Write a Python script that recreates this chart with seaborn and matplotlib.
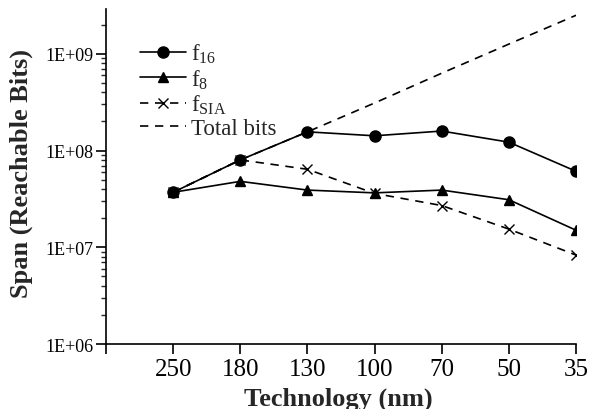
import numpy as np
import pandas as pd
import seaborn as sns
import matplotlib
matplotlib.use("Agg")
import matplotlib.pyplot as plt
from matplotlib.ticker import LogLocator, FixedLocator, NullFormatter

# data
technology = ["250", "180", "130", "100", "70", "50", "35"]
f16 = [3.7e7, 8.0e7, 1.56e8, 1.42e8, 1.59e8, 1.22e8, 6.1e7]
f8 = [3.7e7, 4.8e7, 3.9e7, 3.65e7, 3.9e7, 3.1e7, 1.5e7]
f_sia = [3.7e7, 8.0e7, 6.4e7, 3.6e7, 2.7e7, 1.54e7, 8.3e6]
total_bits = [3.7e7, 8.0e7, 1.56e8, 3.1e8, 6.3e8, 1.26e9, 2.5e9]
y_ticks = [1e6, 1e7, 1e8, 1e9]
y_tick_labels = ["1E+06", "1E+07", "1E+08", "1E+09"]

sns.set_style("ticks")
plt.rcParams["font.family"] = ["Liberation Serif", "DejaVu Serif"]
plt.rcParams["mathtext.fontset"] = "custom"
plt.rcParams["mathtext.rm"] = "Liberation Serif"
plt.rcParams["mathtext.it"] = "Liberation Serif"

fig = plt.figure(figsize=(5.89, 4.10), dpi=100)
ax = fig.add_axes([0.180, 0.1585, 0.798, 0.817])

xpos = np.arange(len(technology))
series = [
    (f16, r"f$_{16}$", "o", 8, None),
    (f8, r"f$_{8}$", "^", 7, None),
    (f_sia, r"f$_{\mathrm{SIA}}$", "x", 7, (5, 4)),
    (total_bits, "Total bits", None, 0, (5, 4)),
]
for vals, label, marker, ms, dash in series:
    line_kw = dict(color="black", lw=1.2, label=label)
    if marker:
        line_kw.update(marker=marker, markersize=ms, markeredgecolor="black",
                       markerfacecolor="black", markeredgewidth=1.0)
    sns.lineplot(x=xpos, y=vals, ax=ax, **line_kw)
    if dash:
        ax.lines[-1].set_dashes(dash)

ax.set_yscale("log")
ax.set_ylim(1e6, 2.9e9)
ax.set_xlim(-1, 6)
ax.yaxis.set_major_locator(FixedLocator(y_ticks))
ax.set_yticklabels(y_tick_labels, fontsize=13)
ax.yaxis.set_minor_locator(LogLocator(base=10, subs=np.arange(2, 10)))
ax.yaxis.set_minor_formatter(NullFormatter())
ax.set_xticks(np.arange(-1, len(technology)))
ax.set_xticklabels([""] + technology, fontsize=18)

ax.tick_params(axis="both", which="major", direction="out", length=7, width=1.2,
               colors="black")
ax.tick_params(axis="y", which="minor", direction="out", length=3.5, width=1.0)
ax.tick_params(axis="x", which="major", pad=3)
ax.tick_params(axis="y", which="major", pad=2)

for side in ["top", "right"]:
    ax.spines[side].set_visible(False)
for side in ["left", "bottom"]:
    ax.spines[side].set_linewidth(1.2)
    ax.spines[side].set_color("black")

ax.set_xlabel("Technology (nm)", fontsize=19, fontweight="bold")
ax.set_ylabel("Span (Reachable Bits)", fontsize=19, fontweight="bold")
ax.xaxis.set_label_coords(0.494, -0.128)
ax.yaxis.set_label_coords(-0.155, 0.513)

ax.legend(loc="upper left", bbox_to_anchor=(0.053, 0.93), frameon=False,
          fontsize=16.5, handlelength=2.0, handletextpad=0.2, labelspacing=0.1,
          borderaxespad=0)

fig.savefig("out.png", dpi=100)
